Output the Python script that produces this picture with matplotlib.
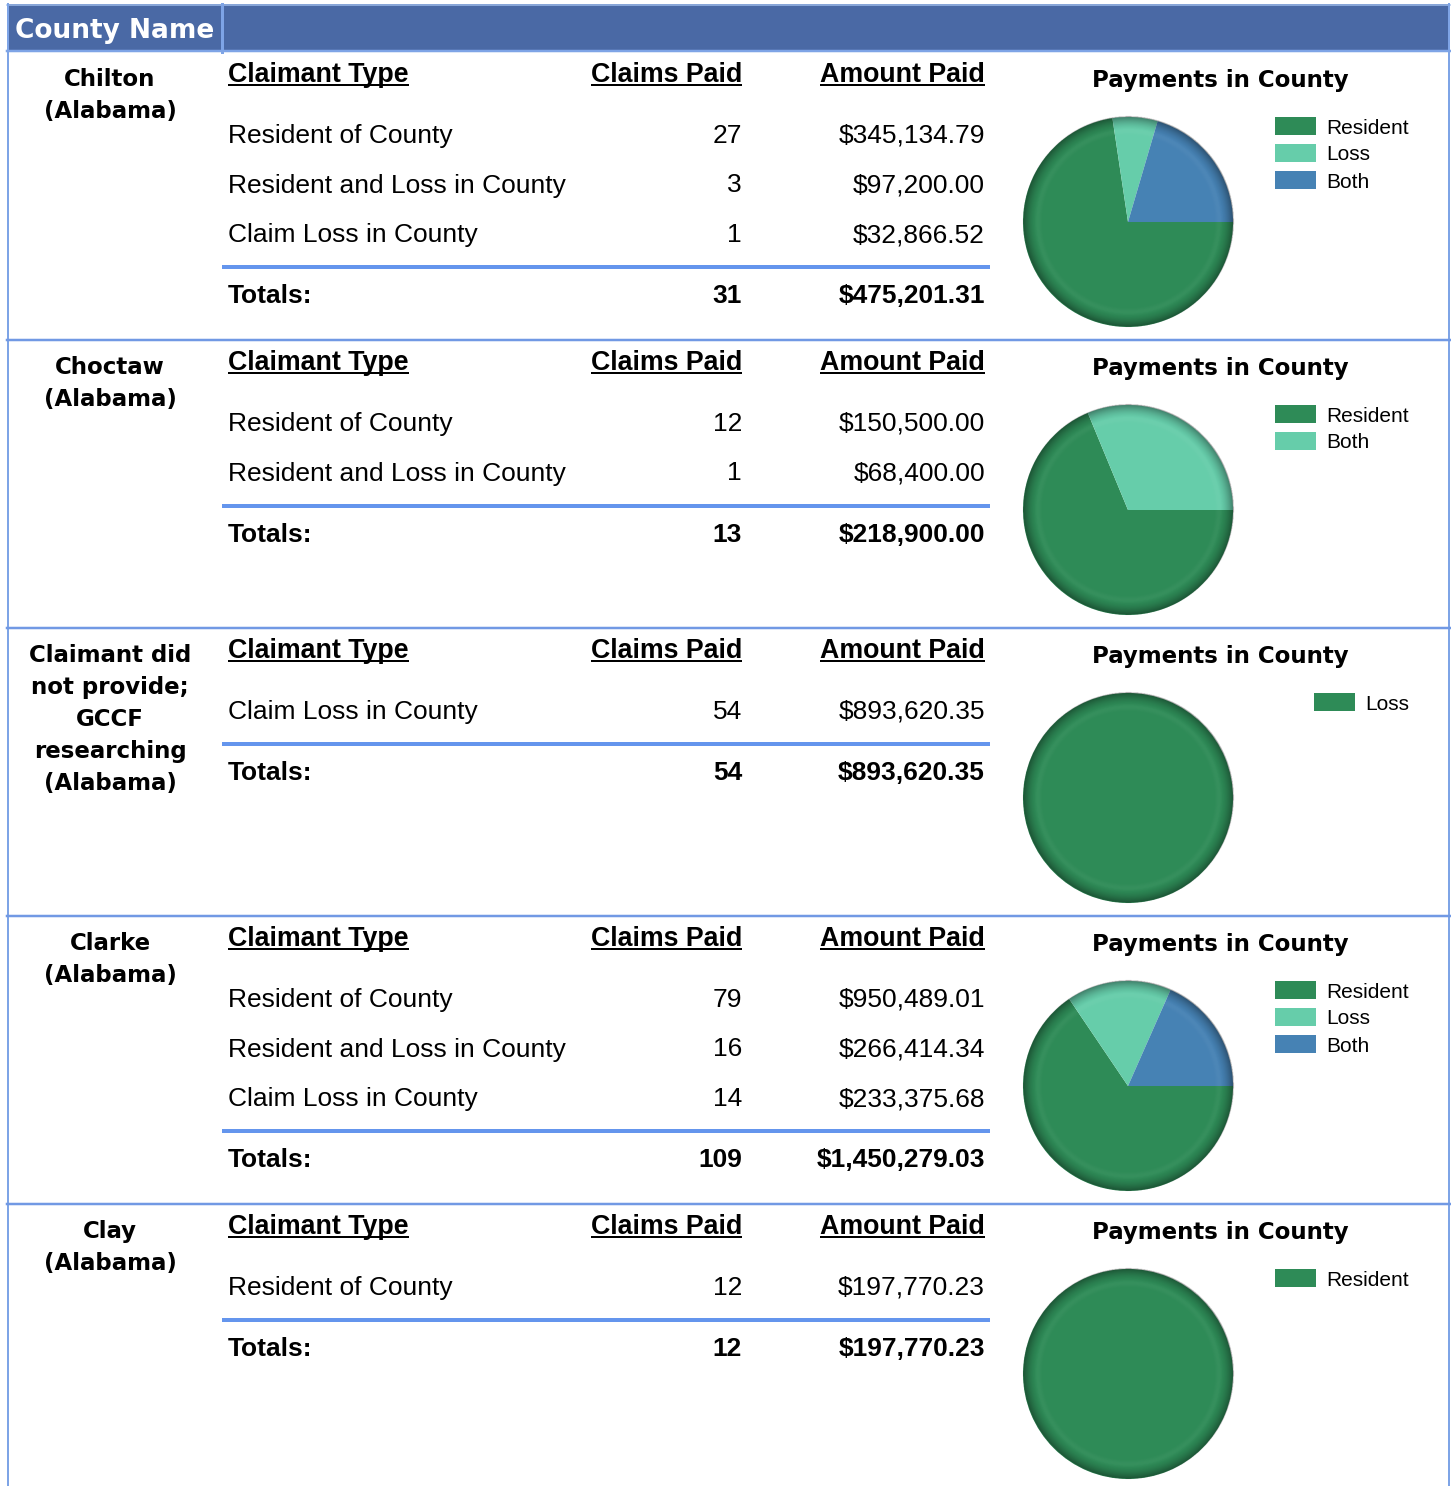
import numpy as np
import matplotlib
matplotlib.use("Agg")
import matplotlib.pyplot as plt
from matplotlib.patches import Rectangle

# ---------------- data ----------------
county_names = [
    ["Chilton", "(Alabama)"],
    ["Choctaw", "(Alabama)"],
    ["Claimant did", "not provide;", "GCCF", "researching", "(Alabama)"],
    ["Clarke", "(Alabama)"],
    ["Clay", "(Alabama)"],
]
claimant_types = [
    ["Resident of County", "Resident and Loss in County", "Claim Loss in County"],
    ["Resident of County", "Resident and Loss in County"],
    ["Claim Loss in County"],
    ["Resident of County", "Resident and Loss in County", "Claim Loss in County"],
    ["Resident of County"],
]
claims_paid = [[27, 3, 1], [12, 1], [54], [79, 16, 14], [12]]
amounts_paid = [
    [345134.79, 97200.00, 32866.52],
    [150500.00, 68400.00],
    [893620.35],
    [950489.01, 266414.34, 233375.68],
    [197770.23],
]
pie_labels = [
    ["Resident", "Loss", "Both"],
    ["Resident", "Both"],
    ["Loss"],
    ["Resident", "Loss", "Both"],
    ["Resident"],
]
type_to_label = {
    "Resident of County": "Resident",
    "Claim Loss in County": "Loss",
    "Resident and Loss in County": "Both",
}
palette = ["#2E8B57", "#66CDAA", "#4682B4"]
header_text = "County Name"
col_headers = ["Claimant Type", "Claims Paid", "Amount Paid"]
pie_title = "Payments in County"
totals_label = "Totals:"

# ---------------- layout ----------------
W, H = 1451, 1486
DPI = 100
fig = plt.figure(figsize=(W / DPI, H / DPI), dpi=DPI)
fig.patch.set_facecolor("white")
ax = fig.add_axes([0, 0, 1, 1])
ax.set_xlim(0, W)
ax.set_ylim(H, 0)
ax.axis("off")

PX = 72.0 / DPI  # points per pixel

SANS = ["Liberation Sans", "DejaVu Sans"]
HEAD = ["DejaVu Sans"]

border_c = "#7ea4e6"
sep_c = "#7199e4"
tot_line_c = "#6495ED"

# header bar
ax.add_patch(Rectangle((7, 4), W - 8, 48, facecolor="#4a69a5", edgecolor="none", zorder=1))
ax.plot([7, W - 1], [4.5, 4.5], color="#9dbbe9", lw=1.5 * PX, zorder=2)
ax.plot([7, W - 1], [51, 51], color=border_c, lw=2.5 * PX, zorder=2)
ax.plot([221.5, 221.5], [4, 52], color=border_c, lw=3 * PX, zorder=2)
ax.text(15, 38, header_text, color="white", fontsize=19, fontweight="bold",
        family=HEAD, ha="left", va="baseline", zorder=3)

# outer borders
ax.plot([7.5, 7.5], [4, H], color=border_c, lw=2 * PX, zorder=2)
ax.plot([W - 2, W - 2], [4, H], color=border_c, lw=2 * PX, zorder=2)

renderer = fig.canvas.get_renderer()

SEC0 = 52
SEC_H = 288
X_TYPE = 228
X_CLAIMS = 742
X_AMOUNT = 985
TXT = 19
HDR = 19.3

def money(v):
    return "${:,.2f}".format(v)

for i in range(len(county_names)):
    S = SEC0 + SEC_H * i
    if i > 0:
        ax.plot([7, W - 1], [S, S], color=sep_c, lw=2.5 * PX, zorder=2)

    # county name
    for k, line in enumerate(county_names[i]):
        ax.text(110, S + 34 + 32 * k, line, fontsize=16.5, fontweight="bold",
                family=HEAD, ha="center", va="baseline", color="black")

    # column headers with underline
    hb = S + 29.5
    for txt, x, ha in zip(col_headers, [X_TYPE, X_CLAIMS, X_AMOUNT], ["left", "right", "right"]):
        t = ax.text(x, hb, txt, fontsize=HDR, fontweight="bold", family=SANS,
                    ha=ha, va="baseline", color="black")
        bb = t.get_window_extent(renderer)
        ax.plot([bb.x0, bb.x1], [hb + 3, hb + 3], color="black", lw=2 * PX,
                solid_capstyle="butt")

    # rows
    n = len(claimant_types[i])
    for r in range(n):
        yb = S + 91 + 49.5 * r
        ax.text(X_TYPE, yb, claimant_types[i][r], fontsize=TXT, family=SANS,
                ha="left", va="baseline", color="black")
        ax.text(X_CLAIMS, yb, str(claims_paid[i][r]), fontsize=TXT, family=SANS,
                ha="right", va="baseline", color="black")
        ax.text(X_AMOUNT, yb, money(amounts_paid[i][r]), fontsize=TXT, family=SANS,
                ha="right", va="baseline", color="black")

    line_y = S + 91 + 49.5 * (n - 1) + 25
    ax.plot([222, 990], [line_y, line_y], color=tot_line_c, lw=4 * PX, solid_capstyle="butt")
    tb = line_y + 36
    ax.text(X_TYPE, tb, totals_label, fontsize=TXT, fontweight="bold", family=SANS,
            ha="left", va="baseline")
    ax.text(X_CLAIMS, tb, str(sum(claims_paid[i])), fontsize=TXT, fontweight="bold",
            family=SANS, ha="right", va="baseline")
    ax.text(X_AMOUNT, tb, money(sum(amounts_paid[i])), fontsize=TXT, fontweight="bold",
            family=SANS, ha="right", va="baseline")

    # pie title
    ax.text(1220, S + 35, pie_title, fontsize=16.5, fontweight="bold",
            family=["DejaVu Sans"], ha="center", va="baseline")

    # pie values by legend label
    labels = pie_labels[i]
    vals = []
    for lab in labels:
        v = 0.0
        for tname, amt in zip(claimant_types[i], amounts_paid[i]):
            if type_to_label[tname] == lab:
                v += amt
        vals.append(v)
    colors = palette[:len(labels)]

    R = 105
    lim = 1.02
    size = 2 * R * lim
    cx, cy = 1128, S + 170
    pax = fig.add_axes([(cx - size / 2) / W, 1 - (cy + size / 2) / H, size / W, size / H])
    pax.pie(vals, colors=colors, startangle=0, counterclock=False, radius=1,
            wedgeprops=dict(linewidth=0, antialiased=True))
    # radial shading overlay
    g = np.linspace(-lim, lim, 500)
    xx, yy = np.meshgrid(g, g)
    rr = np.sqrt(xx ** 2 + yy ** 2)
    inside = rr <= 1.0
    rgba = np.zeros(rr.shape + (4,))
    dark = np.clip((rr - 0.87) / 0.13, 0, 1) ** 1.6 * 0.40
    rgba[..., 3] = np.where(inside, dark, 0.0)
    pax.imshow(rgba, extent=(-lim, lim, -lim, lim), origin="lower", zorder=5,
               interpolation="bilinear")
    rgba2 = np.ones(rr.shape + (4,))
    light = np.exp(-((rr - 0.86) / 0.03) ** 2) * 0.04
    rgba2[..., 3] = np.where(inside, light, 0.0)
    pax.imshow(rgba2, extent=(-lim, lim, -lim, lim), origin="lower", zorder=6,
               interpolation="bilinear")
    pax.set_xlim(-lim, lim)
    pax.set_ylim(-lim, lim)
    pax.set_aspect("equal")
    pax.axis("off")

    # legend (right aligned)
    tmp = [ax.text(0, 0, lab, fontsize=15, family=SANS) for lab in labels]
    maxw = max(t.get_window_extent(renderer).width for t in tmp)
    for t in tmp:
        t.remove()
    text_x = 1409 - maxw
    for k, lab in enumerate(labels):
        yc = S + 74 + 27 * k
        ax.add_patch(Rectangle((text_x - 51, yc - 9), 41, 18, facecolor=colors[k],
                               edgecolor="none"))
        ax.text(text_x, yc + 7.5, lab, fontsize=15, family=SANS, ha="left",
                va="baseline", color="black")

fig.savefig("out.png", dpi=DPI)
